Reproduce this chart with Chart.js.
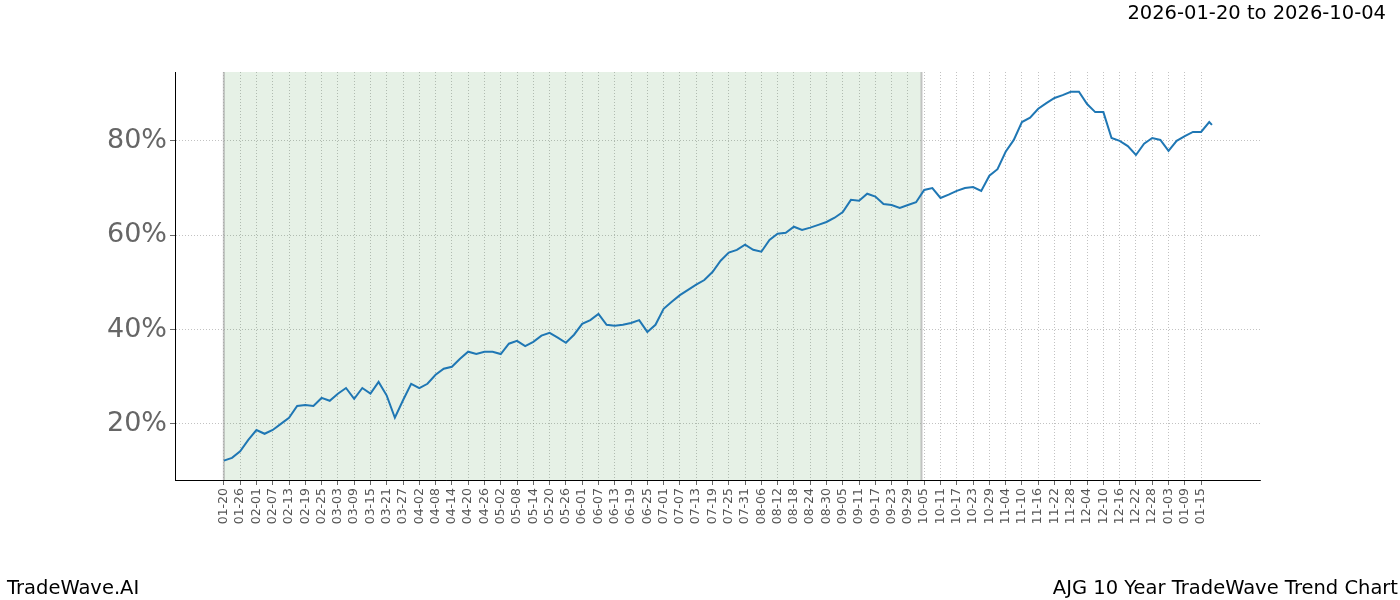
<!DOCTYPE html>
<html><head><meta charset="utf-8">
<script src="https://cdn.jsdelivr.net/npm/chart.js@4"></script>
<style>body{margin:0;background:#fff}#w{position:relative;width:1400px;height:600px}
.t{position:absolute;font-family:"DejaVu Sans";color:#000;font-size:19.5px;line-height:1}</style></head><body>
<div id="w"><canvas id="c" width="1400" height="600"></canvas>
<div class="t" style="right:14px;top:3px">2026-01-20 to 2026-10-04</div>
<div class="t" style="left:7px;top:578px">TradeWave.AI</div>
<div class="t" style="right:2px;top:578px">AJG 10 Year TradeWave Trend Chart</div>
</div>
<script>
const days = [0,3,6,9,12,15,18,21,24,27,30,33,36,39,42,45,48,51,54,57,60,63,66,69,72,75,78,81,84,87,90,93,96,99,102,105,108,111,114,117,120,123,126,129,132,135,138,141,144,147,150,153,156,159,162,165,168,171,174,177,180,183,186,189,192,195,198,201,204,207,210,213,216,219,222,225,228,231,234,237,240,243,246,249,252,255,258,261,264,267,270,273,276,279,282,285,288,291,294,297,300,303,306,309,312,315,318,321,324,327,330,333,336,339,342,345,348,351,354,357,360,363,364];
const values = [12.2,12.8,14.2,16.6,18.7,17.9,18.7,20,21.3,23.8,24,23.8,25.5,24.9,26.4,27.6,25.3,27.6,26.4,28.9,26,21.3,25,28.5,27.6,28.5,30.4,31.7,32.1,33.8,35.3,34.8,35.3,35.3,34.8,37,37.6,36.5,37.4,38.7,39.3,38.3,37.2,38.9,41.2,42,43.3,41,40.8,41,41.4,42,39.5,41,44.4,45.9,47.3,48.4,49.5,50.5,52.2,54.6,56.3,56.9,58,56.9,56.5,59,60.3,60.5,61.8,61.1,61.6,62.2,62.8,63.7,64.9,67.5,67.3,68.8,68.2,66.6,66.4,65.8,66.4,67,69.6,70,67.9,68.6,69.4,70,70.2,69.4,72.6,74,77.7,80.2,84,84.9,86.8,88,89.1,89.7,90.4,90.4,87.8,86.1,86.1,80.6,80,78.9,77,79.4,80.6,80.2,77.9,80,81,81.9,81.9,84,83.4];
const tickLabels = ["01-20","01-26","02-01","02-07","02-13","02-19","02-25","03-03","03-09","03-15","03-21","03-27","04-02","04-08","04-14","04-20","04-26","05-02","05-08","05-14","05-20","05-26","06-01","06-07","06-13","06-19","06-25","07-01","07-07","07-13","07-19","07-25","07-31","08-06","08-12","08-18","08-24","08-30","09-05","09-11","09-17","09-23","09-29","10-05","10-11","10-17","10-23","10-29","11-04","11-10","11-16","11-22","11-28","12-04","12-10","12-16","12-22","12-28","01-03","01-09","01-15"];
const yTicks = [20,40,60,80];
const shadeStart = 0, shadeEnd = 257;

const shade = {id:'shade',beforeDatasetsDraw(ch){const x=ch.scales.x,a=ch.chartArea,c=ch.ctx;
 const x0=x.getPixelForValue(shadeStart),x1=x.getPixelForValue(shadeEnd);
 c.save();c.fillStyle='rgba(46,139,46,0.12)';c.fillRect(x0,a.top,x1-x0,a.bottom-a.top);
 c.fillStyle='rgba(160,160,160,0.6)';c.fillRect(x0-1,a.top,2,a.bottom-a.top);c.fillRect(x1-1,a.top,2,a.bottom-a.top);c.restore();}};

new Chart(document.getElementById('c'),{type:'line',
 data:{datasets:[{data:days.map((d,i)=>({x:d,y:values[i]})),borderColor:'#1f77b4',borderWidth:2,pointRadius:0,tension:0}]},
 options:{responsive:false,animation:false,layout:{padding:{top:72,right:140}},
  plugins:{legend:{display:false},tooltip:{enabled:false}},
  scales:{
   x:{type:'linear',min:-18,max:381.7,
    afterBuildTicks:s=>{s.ticks=tickLabels.map((l,i)=>({value:i*6}));},
    afterFit:s=>{s.height=120;},
    ticks:{autoSkip:false,maxRotation:90,minRotation:90,color:'#555',font:{family:'DejaVu Sans',size:12.5},callback:(v,i)=>tickLabels[i]},
    grid:{color:'#999',lineWidth:0.6,tickLength:5,tickColor:'#000'},border:{color:'#000',dash:[1,2]}},
   y:{min:8.1,max:94.6,
    afterBuildTicks:s=>{s.ticks=yTicks.map(v=>({value:v}));},
    afterFit:s=>{s.width=175;},
    ticks:{color:'#666',font:{family:'DejaVu Sans',size:27},callback:v=>v+'%'},
    grid:{color:'#999',lineWidth:0.6,tickLength:5,tickColor:'#000'},border:{color:'#000',dash:[1,2]}}
  }},plugins:[shade,{id:'axes',afterDraw(ch){const a=ch.chartArea,c=ch.ctx;c.save();c.strokeStyle='#000';c.lineWidth=1;c.beginPath();c.moveTo(a.left+0.5,a.top);c.lineTo(a.left+0.5,a.bottom+0.5);c.lineTo(a.right,a.bottom+0.5);c.stroke();c.restore();}}]});
</script></body></html>
